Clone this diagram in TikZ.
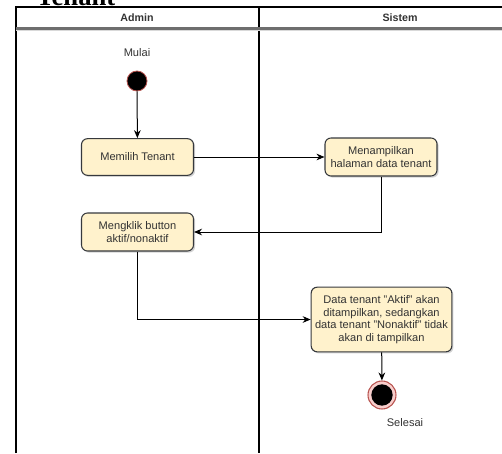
\documentclass[tikz,border=0pt]{standalone}
\usepackage{fontspec}
\setmainfont{Liberation Sans}
\newfontfamily\captionserif{Liberation Serif}
\usetikzlibrary{arrows.meta,shadows}
\definecolor{actfill}{HTML}{FFF2CC}
\definecolor{actline}{HTML}{36393D}
\definecolor{endring}{HTML}{F8CECC}
\definecolor{endline}{HTML}{B85450}
\definecolor{lanegray}{HTML}{6E6E6E}
\definecolor{textgray}{HTML}{333333}

\begin{document}
\begin{tikzpicture}[x=0.75pt,y=-0.75pt,
    actbox/.style={draw=actline,fill=actfill,rounded corners=4.5pt,line width=0.8pt,
      align=center,inner sep=1pt,text=textgray,
      font=\fontsize{8.3}{9.4}\selectfont,
      drop shadow={shadow xshift=1.2pt,shadow yshift=-1.2pt,opacity=0.35,fill=gray}},
    flow/.style={draw=black,line width=0.75pt,-{Stealth[length=6pt,width=5pt]}},
    lbl/.style={text=textgray,font=\fontsize{8.3}{9.4}\selectfont},
    lanehead/.style={text=textgray,font=\bfseries\fontsize{8}{9}\selectfont}]
    % page = reference frame, pixel coordinates
    \useasboundingbox (0,0) rectangle (502,453);
    \clip (0,0) rectangle (502,453);

    % caption, cut off at the top
    \node[anchor=base west,inner sep=0pt] (caption) at (36,6)
      {\captionserif\bfseries\fontsize{20}{22}\selectfont Tenant};

    % swimlanes
    \draw[line width=0.8pt] (16,453) -- (16,7) -- (506,7);
    \draw[line width=0.8pt] (259,7) -- (259,453);
    \draw[gray!30,line width=1.5pt] (16,30) -- (506,30);
    \draw[lanegray,line width=1.6pt] (16,28.5) -- (506,28.5);
    \node[lanehead] (admin) at (137,17.5) {Admin};
    \node[lanehead] (sistem) at (400,17.5) {Sistem};

    % start
    \node[lbl] (mulai) at (137,53) {Mulai};
    \node[circle,fill=black,draw=endline,line width=0.6pt,minimum size=15pt,inner sep=0pt] (start) at (137,81) {};

    % activities
    \node[actbox,minimum width=84pt,minimum height=27.5pt] (memilih) at (137.5,157) {Memilih Tenant};
    \node[actbox,minimum width=84pt,minimum height=28.5pt] (tampil) at (381,157) {Menampilkan\\halaman data tenant};
    \node[actbox,minimum width=84pt,minimum height=28.5pt] (klik) at (137.5,232) {Mengklik button\\aktif/nonaktif};
    \node[actbox,minimum width=105.5pt,minimum height=48.5pt] (data) at (381.5,319.5)
      {Data tenant "Aktif" akan\\ditampilkan, sedangkan\\data tenant "Nonaktif" tidak\\akan di tampilkan};

    % end
    \node[circle,fill=endring,draw=endline,line width=0.8pt,minimum size=21pt,inner sep=0pt] (selesai) at (382,395) {};
    \node[circle,fill=black,minimum size=16pt,inner sep=0pt] (selesaiin) at (382,395) {};
    \node[lbl] (selesailbl) at (405,423) {Selesai};

    % flows
    \draw[flow] (start) -- (memilih);
    \draw[flow] (memilih) -- (tampil);
    \draw[flow] (tampil.south) |- (klik.east);
    \draw[flow] (klik.south) |- (data.west);
    \draw[flow] (data) -- (selesai);
  \end{tikzpicture}
\end{document}
